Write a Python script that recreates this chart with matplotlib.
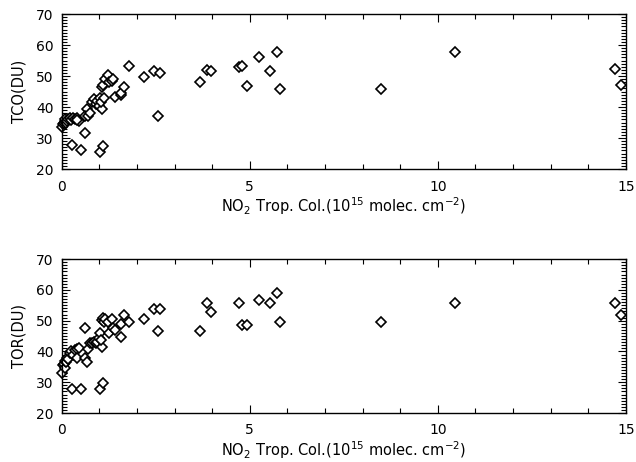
import matplotlib
matplotlib.use("Agg")
import matplotlib.pyplot as plt
from matplotlib.ticker import MultipleLocator

# NO2 tropospheric column (1e15 molec cm-2)
no2 = [0.02, 0.04, 0.06, 0.08, 0.10, 0.12, 0.15, 0.18, 0.22, 0.25,
       0.30, 0.35, 0.40, 0.45, 0.27, 0.51, 0.42, 0.62, 0.66, 0.62,
       0.70, 0.75, 0.80, 0.85, 0.90, 0.93, 1.00, 1.03, 1.09, 1.03,
       1.06, 1.08, 1.05, 1.10, 1.12, 1.15, 1.22, 1.25, 1.34, 1.37,
       1.43, 1.59, 1.57, 1.65, 1.78, 2.19, 2.46, 2.61, 2.57, 3.69,
       3.87, 3.96, 4.72, 4.79, 4.92, 5.24, 5.55, 5.73, 5.81, 8.50,
       10.45, 14.72, 14.88]
tco = [33.5, 34.5, 35.0, 35.5, 36.0, 34.8, 35.5, 36.2, 36.5, 35.8,
       36.4, 36.0, 36.5, 35.5, 27.7, 26.3, 35.8, 31.7, 39.4, 37.0,
       37.2, 38.0, 41.5, 42.5, 41.0, 42.0, 40.5, 25.6, 27.4, 42.8,
       46.4, 39.5, 41.5, 47.0, 43.0, 49.0, 50.3, 48.0, 48.4, 49.0,
       43.1, 43.9, 44.5, 46.4, 53.3, 49.8, 51.6, 51.1, 37.2, 48.2,
       51.9, 51.7, 52.8, 53.2, 46.8, 56.2, 51.6, 57.8, 45.8, 45.8,
       57.8, 52.3, 47.1]
tor = [33.0, 35.5, 36.0, 34.5, 37.0, 36.5, 38.0, 37.5, 39.5, 40.0,
       39.0, 40.5, 40.7, 41.0, 27.7, 27.7, 37.8, 37.8, 36.7, 47.7,
       40.7, 42.6, 42.6, 43.0, 42.8, 43.2, 44.5, 27.7, 29.6, 45.9,
       50.2, 41.5, 43.7, 50.8, 49.5, 50.5, 49.6, 45.9, 50.7, 47.5,
       46.9, 44.6, 48.9, 51.8, 49.6, 50.7, 53.7, 53.7, 46.6, 46.6,
       55.8, 52.7, 55.8, 48.6, 48.6, 56.7, 55.6, 58.9, 49.6, 49.6,
       55.6, 55.6, 51.8]

xlabel = r'NO$_2$ Trop. Col.(10$^{15}$ molec. cm$^{-2}$)'
ylabels = ['TCO(DU)', 'TOR(DU)']

plt.rcParams['font.family'] = ['DejaVu Sans']
plt.rcParams['font.size'] = 10

fig = plt.figure(figsize=(6.36, 4.62), dpi=100)
ax1 = fig.add_axes([0.097, 0.634, 0.887, 0.3355])
ax2 = fig.add_axes([0.097, 0.106, 0.887, 0.333])

for ax, yv, yl in [(ax1, tco, ylabels[0]), (ax2, tor, ylabels[1])]:
    ax.plot(no2, yv, linestyle='none', marker='D', markersize=5.6,
            markerfacecolor='white', markeredgecolor='black',
            markeredgewidth=1.2, clip_on=False)
    ax.set_xlim(0, 15)
    ax.set_ylim(20, 70)
    ax.xaxis.set_major_locator(MultipleLocator(5))
    ax.xaxis.set_minor_locator(MultipleLocator(1))
    ax.yaxis.set_major_locator(MultipleLocator(10))
    ax.yaxis.set_minor_locator(MultipleLocator(1))
    ax.tick_params(which='both', direction='in', top=True, right=True,
                   width=0.8, labelsize=10)
    ax.tick_params(axis='x', pad=7.5)
    ax.tick_params(axis='y', pad=6)
    ax.tick_params(which='major', length=6)
    ax.tick_params(which='minor', length=3.5)
    for s in ax.spines.values():
        s.set_linewidth(1.0)
    ax.set_xlabel(xlabel, fontsize=10.5, labelpad=1)
    ax.set_ylabel(yl, fontsize=10.5, labelpad=7)

fig.savefig('out.png', dpi=100)
